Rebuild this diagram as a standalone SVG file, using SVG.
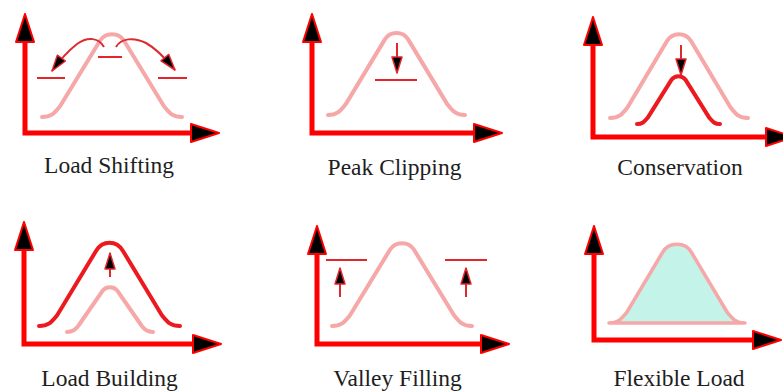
<svg xmlns="http://www.w3.org/2000/svg" width="783" height="392" viewBox="0 0 783 392">
<style>
.axis{fill:none;stroke:#ff0000;stroke-width:5;stroke-linejoin:miter;marker-start:url(#axh);marker-end:url(#axh)}
.base{fill:none;stroke:#f6a7a7;stroke-width:4;stroke-linecap:round;stroke-linejoin:round}
.new{fill:none;stroke:#ec1a1f;stroke-width:4;stroke-linecap:round;stroke-linejoin:round}
.lvl{stroke:#e4262c;stroke-width:2}
.arr{fill:none;stroke:#dd2a30;stroke-width:2;marker-end:url(#ah)}
.lbl{font-family:"Liberation Serif","Times New Roman",serif;font-size:23.5px;fill:#1e1e1e;text-anchor:middle}
</style>
<defs>
<marker id="axh" viewBox="0 0 30 20" refX="0" refY="10" markerWidth="30" markerHeight="20" markerUnits="userSpaceOnUse" orient="auto-start-reverse">
<path d="M1,1 L29,10 L1,19 Z" fill="#000" stroke="#ff0000" stroke-width="2" stroke-linejoin="round"/>
</marker>
<marker id="ah" viewBox="0 0 18 12" refX="17" refY="6" markerWidth="18" markerHeight="12" markerUnits="userSpaceOnUse" orient="auto">
<path d="M1,1 L17,6 L1,11 Z" fill="#000" stroke="#e4262c" stroke-width="1.5" stroke-linejoin="round"/>
</marker>
</defs>

<g id="load-shifting">
<path class="base" d="M42,117 C51.8,117 54.6,112.8 60.2,106 L100.1,40.5 C105.7,32 118.3,32 123.9,40.5 L163.8,106 C169.4,112.8 172.2,117 182,117"/>
<line class="lvl" x1="37" y1="78" x2="65" y2="78"/>
<line class="lvl" x1="98" y1="57" x2="122" y2="57"/>
<line class="lvl" x1="158" y1="78" x2="187" y2="78"/>
<path class="axis" d="M25,43 L25,133 L190,133"/>
</g>

<g id="peak-clipping">
<path class="base" d="M328,115 C337.6,115 340.3,110.8 345.8,104.1 L384.9,39.4 C390.3,31 402.7,31 408.1,39.4 L447.2,104.1 C452.7,110.8 455.4,115 465,115"/>
<line class="lvl" x1="375" y1="80" x2="417" y2="80"/>
<path class="axis" d="M312,43 L312,133 L473,133"/>
</g>

<g id="conservation">
<path class="base" d="M610,118 C619.7,118 622.4,113.7 627.9,106.8 L667.3,40.6 C672.8,32 685.2,32 690.7,40.6 L730.1,106.8 C735.6,113.7 738.3,118 748,118"/>
<path class="new" d="M637,124 C642.8,124 644.5,121.5 647.8,117.6 L671.4,79.9 C674.8,75 682.2,75 685.6,79.9 L709.2,117.6 C712.5,121.5 714.2,124 720,124"/>
<path class="axis" d="M593,46 L593,137 L765,137"/>
</g>

<g id="load-building">
<path class="new" d="M39,326 C48.9,326 51.7,321.8 57.3,315 L96,251 C102.5,240 116.5,240 123,251 L161.7,315 C167.3,321.8 170.1,326 180,326"/>
<path class="base" d="M67,332 C73,332 74.7,329.7 78.2,326 L102.7,290.6 C106.1,286 113.9,286 117.3,290.6 L141.8,326 C145.3,329.7 147,332 153,332"/>
<path class="axis" d="M24,251 L24,344 L192,344"/>
</g>

<g id="valley-filling">
<path class="base" d="M332,326 C341.8,326 344.6,321.8 350.2,315 L390.1,249.5 C395.7,241 408.3,241 413.9,249.5 L453.8,315 C459.4,321.8 462.2,326 472,326"/>
<line class="lvl" x1="326" y1="260" x2="367" y2="260"/>
<line class="lvl" x1="445" y1="260" x2="487" y2="260"/>
<path class="axis" d="M317,255 L317,344 L480,344"/>
</g>

<g id="flexible-load">
<path d="M609,323 C618.5,323 621.2,319 626.7,312.5 L662.5,252.5 C668.5,241.5 685.5,241.5 691.5,252.5 L727.3,312.5 C732.8,319 735.5,323 745,323 Z" fill="#c4f4e9" stroke="#f6a7a7" stroke-width="3.5" stroke-linejoin="round"/>
<path class="axis" d="M594,255 L594,340 L752,340"/>
</g>

<g id="connectors">
<path class="arr" d="M104,47 C99,38 88,36 77,44 C68,51 60,60 52,71"/>
<path class="arr" d="M116,47 C121,38 134,37 146,43 C157,49 166,59 175,70"/>
<path class="arr" d="M397,43 L397,73"/>
<path class="arr" d="M681,45 L681,75"/>
<path class="arr" d="M110,277 L110,253"/>
<path class="arr" d="M340,297 L340,268"/>
<path class="arr" d="M466,297 L466,268"/>
</g>

<g id="labels">
<text class="lbl" x="109" y="173">Load Shifting</text>
<text class="lbl" x="394.5" y="175">Peak Clipping</text>
<text class="lbl" x="680" y="175">Conservation</text>
<text class="lbl" x="109.5" y="386">Load Building</text>
<text class="lbl" x="397.5" y="386">Valley Filling</text>
<text class="lbl" x="679" y="386">Flexible Load</text>
</g>
</svg>
